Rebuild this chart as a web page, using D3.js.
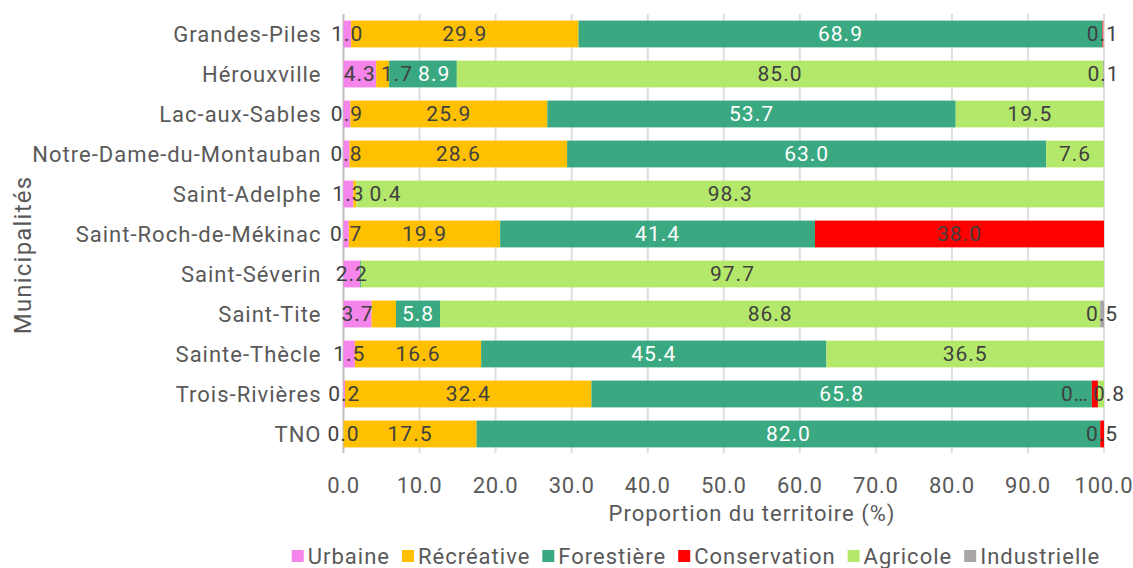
<!DOCTYPE html>
<html>
<head>
  <meta charset="utf-8">
  <script src="https://d3js.org/d3.v7.min.js"></script>
  <style>
    body { margin: 0; background: #fff; }
    text { font-family: Roboto, "Noto Sans", sans-serif; letter-spacing: 1px; }
    .cat-label { font-size: 22px; fill: #595959; text-anchor: end; }
    .tick-label { font-size: 22px; fill: #595959; text-anchor: middle; letter-spacing: 0.7px; }
    .axis-title { font-size: 22px; fill: #595959; text-anchor: middle; }
    .y-title { font-size: 24px; letter-spacing: 1.2px; }
    .val-label { font-size: 21px; }
    .legend-text { font-size: 22px; fill: #595959; }
  </style>
</head>
<body>
  <svg width="1133" height="568"></svg>
  <script>
    // data
    var municipalites = ["Grandes-Piles", "Hérouxville", "Lac-aux-Sables", "Notre-Dame-du-Montauban",
      "Saint-Adelphe", "Saint-Roch-de-Mékinac", "Saint-Séverin", "Saint-Tite", "Sainte-Thècle",
      "Trois-Rivières", "TNO"];
    var urbaine      = [1.0, 4.3, 0.9, 0.8, 1.3, 0.7, 2.2, 3.7, 1.5, 0.2, 0.0];
    var recreative   = [29.9, 1.7, 25.9, 28.6, 0.4, 19.9, null, 3.2, 16.6, 32.4, 17.5];
    var forestiere   = [68.9, 8.9, 53.7, 63.0, null, 41.4, 0.1, 5.8, 45.4, 65.8, 82.0];
    var conservation = [0.1, null, null, null, null, 38.0, null, null, null, 0.8, 0.5];
    var agricole     = [null, 85.0, 19.5, 7.6, 98.3, null, 97.7, 86.8, 36.5, 0.8, null];
    var industrielle = [null, 0.1, null, null, null, null, null, 0.5, null, null, null];
    var seriesNames = ["Urbaine", "Récréative", "Forestière", "Conservation", "Agricole", "Industrielle"];
    var xTicks = [0, 10, 20, 30, 40, 50, 60, 70, 80, 90, 100];

    var seriesValues = [urbaine, recreative, forestiere, conservation, agricole, industrielle];
    var colors = ["#f585ea", "#ffc000", "#3aa982", "#ff0000", "#b3e86a", "#a9a5a5"];
    var labelColors = ["#404040", "#404040", "#ffffff", "#404040", "#404040", "#404040"];

    // labels that the original chart drops or moves
    var hiddenLabels = ["Saint-Tite|Récréative", "Saint-Séverin|Forestière"];
    var labelOverrides = {
      "Trois-Rivières|Conservation": {text: "0…", anchor: "end", dx: -3},
      "Trois-Rivières|Agricole": {text: "0.8", anchor: "start", dx: -5}
    };

    var svg = d3.select("svg");
    var plotLeft = 343.5, plotRight = 1104, plotTop = 14, plotBottom = 454;

    var table = municipalites.map(function(m, i) {
      var row = {name: m};
      seriesNames.forEach(function(s, j) { row[s] = seriesValues[j][i] || 0; });
      return row;
    });
    var stacked = d3.stack().keys(seriesNames)(table);

    var x = d3.scaleLinear().domain([0, 100]).range([plotLeft, plotRight]);
    var y = d3.scaleBand().domain(municipalites).range([plotTop, plotBottom])
      .paddingInner(0.33).paddingOuter(0.165);

    // gridlines
    svg.append("g").selectAll("line")
      .data(xTicks)
      .join("line")
        .attr("x1", d => x(d)).attr("x2", d => x(d))
        .attr("y1", plotTop).attr("y2", plotBottom - 1)
        .attr("stroke", d => d === 0 ? "#bfbfbf" : "#dedede")
        .attr("stroke-width", 2);

    svg.append("g").selectAll("text")
      .data(xTicks)
      .join("text")
        .attr("class", "tick-label")
        .attr("x", d => x(d))
        .attr("y", 493)
        .text(d => d3.format(".1f")(d));

    // bars
    stacked.forEach(function(layer, j) {
      svg.append("g")
        .attr("fill", colors[j])
        .selectAll("rect")
        .data(layer)
        .join("rect")
          .attr("x", d => x(d[0]))
          .attr("y", d => y(d.data.name))
          .attr("width", d => Math.max(0, x(d[1]) - x(d[0])))
          .attr("height", y.bandwidth());
    });

    // category labels
    svg.append("g").selectAll("text")
      .data(municipalites)
      .join("text")
        .attr("class", "cat-label")
        .attr("x", plotLeft - 22)
        .attr("y", d => y(d) + y.bandwidth() / 2)
        .attr("dy", "0.35em")
        .text(d => d);

    // value labels, centred on each segment, pushed right when they collide
    var labelG = svg.append("g");
    municipalites.forEach(function(m, i) {
      var lastRight = -Infinity;
      seriesNames.forEach(function(s, j) {
        var v = seriesValues[j][i];
        if (v === null || hiddenLabels.indexOf(m + "|" + s) >= 0) return;
        var seg = stacked[j][i];
        var cy = y(m) + y.bandwidth() / 2;
        var ov = labelOverrides[m + "|" + s];
        var t = labelG.append("text")
          .attr("class", "val-label")
          .attr("fill", labelColors[j])
          .attr("y", cy)
          .attr("dy", "0.35em");
        if (ov) {
          t.attr("text-anchor", ov.anchor).attr("x", x(seg[0]) + ov.dx).text(ov.text);
          return;
        }
        t.attr("text-anchor", "middle").text(d3.format(".1f")(v));
        var w = t.node().getComputedTextLength();
        var cx = (x(seg[0]) + x(seg[1])) / 2;
        if (cx - w / 2 < lastRight + 5) cx = lastRight + 5 + w / 2;
        t.attr("x", cx);
        lastRight = cx + w / 2;
      });
    });

    // axis titles
    svg.append("text")
      .attr("class", "axis-title")
      .attr("x", 752).attr("y", 521)
      .text("Proportion du territoire (%)");

    svg.append("text")
      .attr("class", "axis-title y-title")
      .attr("transform", "translate(31,255) rotate(-90)")
      .text("Municipalités");

    // legend
    var legend = svg.append("g");
    var lx = 0;
    seriesNames.forEach(function(s, j) {
      var item = legend.append("g").attr("transform", "translate(" + lx + ",0)");
      item.append("rect").attr("x", 0).attr("y", -6).attr("width", 12).attr("height", 12).attr("fill", colors[j]);
      var t = item.append("text").attr("class", "legend-text").attr("x", 16).attr("dy", "0.35em").text(s);
      lx += 16 + t.node().getComputedTextLength() + 12;
    });
    lx -= 12;
    legend.attr("transform", "translate(" + (696 - lx / 2) + ",556)");
  </script>
</body>
</html>
